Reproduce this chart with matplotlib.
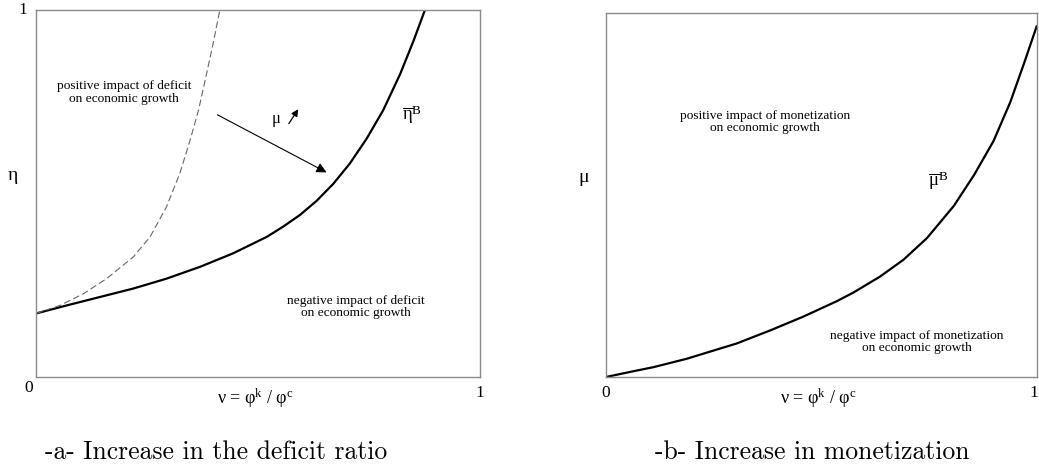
import matplotlib
matplotlib.use("Agg")
import matplotlib.pyplot as plt

plt.rcParams['mathtext.fontset'] = 'custom'
plt.rcParams['mathtext.rm'] = 'Liberation Serif'
plt.rcParams['mathtext.it'] = 'Liberation Serif:italic'
plt.rcParams['mathtext.bf'] = 'Liberation Serif:bold'

# ---- data ----
a_solid_x = [0, 0.069, 0.144, 0.219, 0.294, 0.369, 0.444, 0.520, 0.557, 0.595,
             0.632, 0.670, 0.707, 0.745, 0.782, 0.820, 0.850, 0.876]
a_solid_y = [0.173, 0.195, 0.218, 0.241, 0.268, 0.300, 0.337, 0.382, 0.410, 0.442,
             0.480, 0.527, 0.582, 0.650, 0.727, 0.825, 0.915, 1.0]
a_dash_x = [0, 0.054, 0.107, 0.159, 0.219, 0.257, 0.294, 0.324, 0.347, 0.366,
            0.381, 0.399, 0.414]
a_dash_y = [0.173, 0.195, 0.227, 0.268, 0.327, 0.382, 0.464, 0.555, 0.645, 0.727,
            0.809, 0.909, 1.0]
b_x = [0, 0.056, 0.110, 0.187, 0.303, 0.381, 0.458, 0.535, 0.574, 0.636, 0.690,
       0.745, 0.807, 0.854, 0.899, 0.938, 0.970, 1.0]
b_y = [0, 0.014, 0.027, 0.050, 0.092, 0.128, 0.166, 0.208, 0.232, 0.276, 0.322,
       0.382, 0.470, 0.555, 0.648, 0.755, 0.862, 0.966]

caption_a = "-a- Increase in the deficit ratio"
caption_b = "-b- Increase in monetization"

W, H = 1039, 468
fig = plt.figure(figsize=(W / 100, H / 100), dpi=100)

SERIF = 'Liberation Serif'
spine_col = '#8a8a8a'
ANN = 9.6
TICK = 12.5


def px_axes(x0, y0, x1, y1):
    return fig.add_axes([x0 / W, 1 - y1 / H, (x1 - x0) / W, (y1 - y0) / H])


def style(ax):
    ax.set_xlim(0, 1)
    ax.set_ylim(0, 1)
    ax.set_xticks([])
    ax.set_yticks([])
    for s in ax.spines.values():
        s.set_color(spine_col)
        s.set_linewidth(1.0)


# ---- panel a ----
axa = px_axes(36, 10, 480, 377)
style(axa)
axa.plot(a_solid_x, a_solid_y, color='black', lw=1.6, solid_capstyle='butt',
         solid_joinstyle='round')
axa.plot(a_dash_x, a_dash_y, color='#666666', lw=0.8, dashes=(6, 3))
axa.annotate('', xy=(0.660, 0.554), xytext=(0.403, 0.718),
             arrowprops=dict(arrowstyle='-|>', color='black', lw=0.8,
                             mutation_scale=15))
axa.annotate('', xy=(0.594, 0.736), xytext=(0.566, 0.684),
             arrowprops=dict(arrowstyle='-|>', color='black', lw=0.9,
                             mutation_scale=10))
axa.text(0.541, 0.703, 'μ', family=SERIF, fontsize=12, ha='center', va='center')
axa.text(0.825, 0.715, r'$\overline{\mathrm{η}}^{\mathrm{B}}$', fontsize=13.5,
         ha='left', va='center')
axa.text(0.198, 0.775, 'positive impact of deficit\non economic growth',
         family=SERIF, fontsize=ANN, ha='center', va='center', linespacing=1.05)
axa.text(0.72, 0.19, 'negative impact of deficit\non economic growth',
         family=SERIF, fontsize=ANN, ha='center', va='center', linespacing=1.05)

fig.text(23 / W, 1 - 10 / H, '1', family=SERIF, fontsize=TICK, ha='center', va='center')
fig.text(13 / W, 1 - 176 / H, 'η', family=SERIF, fontsize=14, ha='center', va='center')
fig.text(29 / W, 1 - 388 / H, '0', family=SERIF, fontsize=TICK, ha='center', va='center')
fig.text(480 / W, 1 - 393 / H, '1', family=SERIF, fontsize=TICK, ha='center', va='center')
fig.text(255 / W, 1 - 398 / H, r'ν = φ$^{\mathrm{k}}$ / φ$^{\mathrm{c}}$', family=SERIF,
         fontsize=13, ha='center', va='center')
fig.text(216 / W, 1 - 452 / H, caption_a, family='cmr10', fontsize=18.5,
         ha='center', va='center')

# ---- panel b ----
axb = px_axes(606, 13, 1037, 377)
style(axb)
axb.plot(b_x, b_y, color='black', lw=1.6, solid_capstyle='butt',
         solid_joinstyle='round')
axb.text(0.748, 0.54, r'$\overline{\mathrm{μ}}^{\mathrm{B}}$', fontsize=13.5,
         ha='left', va='center')
axb.text(0.369, 0.70, 'positive impact of monetization\non economic growth',
         family=SERIF, fontsize=ANN, ha='center', va='center', linespacing=1.05)
axb.text(0.721, 0.096, 'negative impact of monetization\non economic growth',
         family=SERIF, fontsize=ANN, ha='center', va='center', linespacing=1.05)

fig.text(584 / W, 1 - 177 / H, 'μ', family=SERIF, fontsize=14, ha='center', va='center')
fig.text(606 / W, 1 - 393 / H, '0', family=SERIF, fontsize=TICK, ha='center', va='center')
fig.text(1038.5 / W, 1 - 393 / H, '1', family=SERIF, fontsize=TICK, ha='right', va='center')
fig.text(818 / W, 1 - 398 / H, r'ν = φ$^{\mathrm{k}}$ / φ$^{\mathrm{c}}$', family=SERIF,
         fontsize=13, ha='center', va='center')
fig.text(812 / W, 1 - 452 / H, caption_b, family='cmr10', fontsize=18.5,
         ha='center', va='center')

fig.savefig('out.png', dpi=100)
